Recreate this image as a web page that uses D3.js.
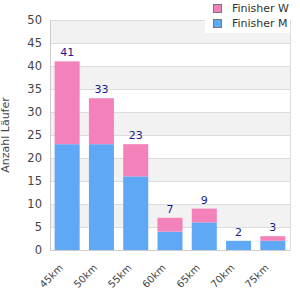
<!DOCTYPE html>
<html><head><meta charset="utf-8">
<script src="https://cdn.jsdelivr.net/npm/d3@7"></script>
<style>body{margin:0;background:#fff}svg{display:block;font-family:"DejaVu Sans",sans-serif}</style>
</head><body><svg id="c" width="300" height="300"></svg>
<script>
const categories = ["45km","50km","55km","60km","65km","70km","75km"];
const finisherM = [23,23,16,4,6,2,2];
const finisherW = [18,10,7,3,3,0,1];
const yTicks = [0,5,10,15,20,25,30,35,40,45,50];
const seriesNames = ["Finisher M","Finisher W"];
const colors = {"Finisher M":"#5fa8f5","Finisher W":"#f282b9"};

const svg = d3.select("#c");
const L=50,R=290,T=20,B=250;
const x = d3.scaleBand().domain(categories).range([L,R]).paddingInner(0.27).paddingOuter(0.135);
const y = d3.scaleLinear().domain([0,50]).range([B,T]);

// alternating bands
const bands = yTicks.slice(0,-1).map((v,i)=>[v,yTicks[i+1]]);
svg.append("g").selectAll("rect").data(bands).join("rect")
  .attr("x",L).attr("width",R-L)
  .attr("y",d=>y(d[1])).attr("height",d=>y(d[0])-y(d[1]))
  .attr("fill",(d,i)=>i%2===1?"#f2f2f2":"#ffffff");
svg.append("g").selectAll("line").data(yTicks).join("line")
  .attr("x1",L).attr("x2",R).attr("y1",d=>y(d)+0.5).attr("y2",d=>y(d)+0.5)
  .attr("stroke","#dcdcdc");
svg.append("line").attr("x1",R+0.5).attr("x2",R+0.5).attr("y1",T).attr("y2",B).attr("stroke","#dcdcdc");

const data = categories.map((c,i)=>({cat:c,"Finisher M":finisherM[i],"Finisher W":finisherW[i]}));
const stack = d3.stack().keys(seriesNames)(data);
svg.append("g").selectAll("g").data(stack).join("g").attr("fill",d=>colors[d.key])
  .selectAll("rect").data(d=>d).join("rect")
  .attr("x",d=>x(d.data.cat)).attr("width",x.bandwidth())
  .attr("y",d=>y(d[1])).attr("height",d=>y(d[0])-y(d[1]));

// value labels
svg.append("g").selectAll("text").data(data).join("text")
  .attr("x",d=>x(d.cat)+x.bandwidth()/2)
  .attr("y",d=>y(d["Finisher M"]+d["Finisher W"])-5)
  .attr("text-anchor","middle").attr("font-size",11).attr("fill","#1a1a8a")
  .text(d=>d["Finisher M"]+d["Finisher W"]);

// axes
const ya = svg.append("g").attr("transform",`translate(${L},0)`)
  .call(d3.axisLeft(y).tickValues(yTicks).tickSize(0).tickPadding(8));
ya.select(".domain").attr("stroke","#ccc");
ya.selectAll("text").attr("font-size",11.5).attr("fill","#444").attr("font-family","DejaVu Sans");
const xa = svg.append("g").attr("transform",`translate(0,${B})`)
  .call(d3.axisBottom(x).tickSize(0).tickFormat(""));
xa.select(".domain").attr("stroke","#ccc");
svg.append("g").selectAll("text").data(categories).join("text")
  .attr("transform",d=>`translate(${x(d)+x.bandwidth()/2-6},${B+16}) rotate(-45)`)
  .attr("text-anchor","end").attr("dy","0.35em")
  .attr("font-size",10).attr("fill","#444").text(d=>d);

svg.append("text").attr("transform",`translate(9,${(T+B)/2}) rotate(-90)`)
  .attr("text-anchor","middle").attr("font-size",11).attr("fill","#444").text("Anzahl Läufer");

// legend
const lg = svg.append("g");
lg.append("rect").attr("x",205).attr("y",0).attr("width",85).attr("height",33).attr("fill","#fff");
const legendItems = ["Finisher W","Finisher M"];
legendItems.forEach((k,i)=>{
  lg.append("rect").attr("x",213.5).attr("y",4.5+i*15).attr("width",8).attr("height",8)
    .attr("fill",colors[k]).attr("stroke","#777");
  lg.append("text").attr("x",232).attr("y",12+i*15).attr("font-size",11).attr("fill","#333").text(k);
});
</script></body></html>
